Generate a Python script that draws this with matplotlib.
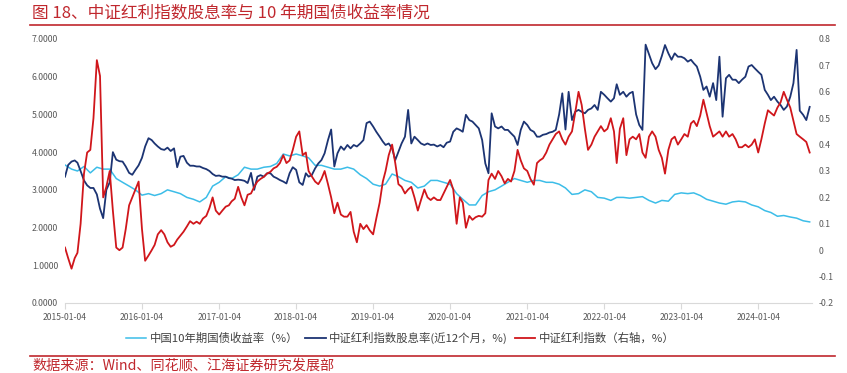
import numpy as np
import pandas as pd
import matplotlib
matplotlib.use("Agg")
import matplotlib.pyplot as plt

plt.rcParams['font.family'] = ['Noto Sans CJK SC', 'DejaVu Sans']
plt.rcParams['axes.unicode_minus'] = False

# bond yield read monthly, the two index series read twice a month (4th / 19th)
months = pd.date_range('2015-01-04', periods=117, freq=pd.DateOffset(months=1))
half_months = pd.DatetimeIndex(sorted(list(months) + list(months[:-1] + pd.Timedelta(days=15))))

# 中国10年期国债收益率 (%), left axis
bond_yield = [
    3.66, 3.55, 3.50, 3.62, 3.45, 3.60, 3.55, 3.55, 3.30, 3.20, 3.10, 3.00,
    2.86, 2.90, 2.85, 2.90, 3.00, 2.95, 2.90, 2.80, 2.75, 2.68, 2.80, 3.10,
    3.20, 3.35, 3.30, 3.40, 3.60, 3.55, 3.55, 3.60, 3.62, 3.70, 3.95, 3.90,
    3.95, 3.90, 3.85, 3.65, 3.65, 3.60, 3.55, 3.55, 3.60, 3.55, 3.40, 3.30,
    3.15, 3.10, 3.15, 3.42, 3.35, 3.25, 3.20, 3.05, 3.10, 3.25, 3.25, 3.20,
    3.15, 2.90, 2.75, 2.60, 2.60, 2.85, 2.95, 3.00, 3.10, 3.20, 3.30, 3.25,
    3.20, 3.25, 3.25, 3.20, 3.20, 3.15, 3.05, 2.88, 2.90, 3.00, 2.95, 2.80,
    2.78, 2.72, 2.80, 2.80, 2.78, 2.80, 2.82, 2.72, 2.65, 2.72, 2.70, 2.88,
    2.92, 2.90, 2.92, 2.85, 2.75, 2.70, 2.65, 2.62, 2.68, 2.70, 2.68, 2.60,
    2.55, 2.45, 2.40, 2.30, 2.32, 2.28, 2.25, 2.18, 2.15,
]

# 中证红利指数股息率 (近12个月, %), left axis
div_yield = [
    3.35, 3.66, 3.75, 3.78, 3.72, 3.50, 3.25, 3.12, 3.05, 3.05,
    2.88, 2.50, 2.25, 3.00, 3.20, 4.00, 3.80, 3.76, 3.75, 3.62,
    3.45, 3.40, 3.53, 3.65, 3.85, 4.15, 4.37, 4.32, 4.23, 4.15,
    4.08, 4.06, 4.12, 4.03, 4.10, 3.60, 3.88, 3.90, 3.72, 3.64,
    3.64, 3.62, 3.62, 3.58, 3.55, 3.50, 3.42, 3.37, 3.38, 3.35,
    3.35, 3.31, 3.30, 3.26, 3.27, 3.26, 3.24, 3.18,
    3.45, 3.00, 3.35, 3.39, 3.35, 3.44, 3.44, 3.35, 3.31, 3.26,
    3.22, 3.17, 3.44, 3.60, 3.53, 3.20, 3.13, 3.44, 3.35, 3.39,
    3.57, 3.70, 3.79, 3.97, 4.32, 4.60, 3.62, 3.97, 4.15, 4.06,
    4.19, 4.10, 4.19, 4.15, 4.23, 4.32, 4.77, 4.81, 4.68, 4.54,
    4.41, 4.28, 4.19, 4.23, 4.10, 3.79, 4.01, 4.23, 4.41, 5.12,
    4.23, 4.41, 4.32, 4.23, 4.19, 4.23, 4.19, 4.20,
    4.15, 4.19, 4.13, 4.25, 4.28, 4.54, 4.63, 4.59, 4.54, 4.99,
    4.85, 4.81, 4.72, 4.63, 4.32, 3.70, 3.44, 5.03, 4.68, 4.63,
    4.68, 4.59, 4.59, 4.50, 4.41, 4.19, 4.59, 4.81, 4.72, 4.59,
    4.54, 4.41, 4.41, 4.46, 4.48, 4.52, 4.54, 4.59, 5.00, 5.56,
    4.60, 5.60, 4.85, 5.07, 5.12, 5.07, 5.03, 5.12, 5.16, 5.25,
    5.12, 5.60, 5.52, 5.43, 5.34, 5.43, 5.80,
    5.52, 5.60, 5.47, 5.56, 5.60, 5.00, 4.72, 4.59, 6.85, 6.60,
    6.36, 6.20, 6.30, 6.55, 6.84, 6.62, 6.45, 6.62, 6.53, 6.53,
    6.49, 6.40, 6.45, 6.36, 6.27, 6.00, 5.65, 5.74, 5.47, 5.83,
    5.38, 6.53, 4.94, 5.96, 6.05, 5.92, 5.92, 5.83, 5.92, 6.00,
    6.27, 6.31, 6.22, 6.13, 6.05, 5.65, 5.52, 5.38, 5.47, 5.34,
    5.25, 5.12, 5.21, 5.47, 5.83, 6.71, 5.10, 4.99, 4.85, 5.20,
]

# 中证红利指数 (右轴, %)
index_val = [
    0.01, -0.03, -0.07, -0.03, -0.01, 0.10, 0.29, 0.37, 0.38, 0.50,
    0.72, 0.66, 0.20, 0.24, 0.30, 0.15, 0.01, 0.00, 0.01, 0.08,
    0.17, 0.20, 0.23, 0.26, 0.08, -0.04, -0.02, 0.00, 0.02, 0.06,
    0.076, 0.06, 0.03, 0.013, 0.02, 0.04, 0.055, 0.07, 0.09, 0.11,
    0.10, 0.108, 0.10, 0.12, 0.13, 0.16, 0.20, 0.15, 0.135, 0.15,
    0.165, 0.17, 0.185, 0.195, 0.24, 0.20, 0.17, 0.21,
    0.215, 0.24, 0.26, 0.27, 0.278, 0.29, 0.297, 0.31, 0.316, 0.33,
    0.36, 0.33, 0.34, 0.38, 0.43, 0.45, 0.36, 0.37, 0.30, 0.28,
    0.26, 0.25, 0.27, 0.30, 0.25, 0.20, 0.14, 0.18, 0.135, 0.127,
    0.127, 0.145, 0.07, 0.03, 0.10, 0.08, 0.095, 0.075, 0.06, 0.12,
    0.18, 0.26, 0.30, 0.36, 0.40, 0.33, 0.25, 0.24, 0.215, 0.23,
    0.24, 0.20, 0.15, 0.19, 0.23, 0.20, 0.19, 0.20,
    0.19, 0.19, 0.215, 0.24, 0.266, 0.23, 0.10, 0.20, 0.18, 0.085,
    0.13, 0.115, 0.125, 0.13, 0.127, 0.14, 0.266, 0.29, 0.27, 0.30,
    0.28, 0.253, 0.27, 0.26, 0.30, 0.38, 0.34, 0.31, 0.30, 0.27,
    0.248, 0.33, 0.34, 0.348, 0.37, 0.40, 0.42, 0.44, 0.45, 0.42,
    0.40, 0.43, 0.45, 0.52, 0.60, 0.55, 0.46, 0.38, 0.40, 0.43,
    0.45, 0.47, 0.45, 0.46, 0.50, 0.45, 0.33,
    0.46, 0.50, 0.36, 0.42, 0.43, 0.42, 0.44, 0.37, 0.35, 0.43,
    0.45, 0.43, 0.38, 0.35, 0.29, 0.38, 0.42, 0.43, 0.40, 0.42,
    0.44, 0.43, 0.48, 0.49, 0.47, 0.51, 0.57, 0.52, 0.47, 0.43,
    0.44, 0.45, 0.43, 0.45, 0.43, 0.44, 0.42, 0.39, 0.39, 0.40,
    0.39, 0.40, 0.42, 0.37, 0.42, 0.48, 0.53, 0.52, 0.51, 0.54,
    0.56, 0.60, 0.57, 0.54, 0.49, 0.44, 0.43, 0.42, 0.41, 0.37,
]

labels = ['中国10年期国债收益率（%）', '中证红利指数股息率(近12个月，%)', '中证红利指数（右轴，%）']
title = '图 18、中证红利指数股息率与 10 年期国债收益率情况'
source = '数据来源：Wind、同花顺、江海证券研究发展部'

c_light = '#3CBDE8'
c_navy = '#1C3473'
c_red = '#D0161B'
c_title = '#C0272D'
c_tick = '#595959'

fig = plt.figure(figsize=(8.47, 3.73), dpi=100)
ax = fig.add_axes([65 / 847, 1 - 303 / 373, (812 - 65) / 847, (303 - 39) / 373])
ax2 = ax.twinx()

l1, = ax.plot(months, bond_yield, color=c_light, lw=1.1)
l2, = ax.plot(half_months, div_yield, color=c_navy, lw=1.3)
l3, = ax2.plot(half_months, index_val, color=c_red, lw=1.3)

ax.set_ylim(0, 7)
ax.set_yticks(np.arange(0, 8, 1))
ax.set_yticklabels(['%.4f' % v for v in range(8)])
ax2.set_ylim(-0.2, 0.8)
rticks = np.round(np.arange(-0.2, 0.81, 0.1), 1)
ax2.set_yticks(rticks)
ax2.set_yticklabels(['0' if v == 0 else ('%g' % v) for v in rticks])

ax.set_xlim(pd.Timestamp('2015-01-04'), pd.Timestamp('2024-09-15'))
xt = pd.date_range('2015-01-04', periods=10, freq=pd.DateOffset(years=1))
ax.set_xticks(xt)
ax.set_xticklabels([d.strftime('%Y-%m-%d') for d in xt])

for a in (ax, ax2):
    for s in a.spines.values():
        s.set_visible(False)
ax.spines['bottom'].set_visible(True)
ax.spines['bottom'].set_color('#D9D9D9')
ax.tick_params(axis='x', colors='#D9D9D9', labelcolor=c_tick, labelsize=6.2, length=4, pad=3)
ax.tick_params(axis='y', length=0, labelcolor=c_tick, labelsize=6.3, pad=5)
ax2.tick_params(axis='y', length=0, labelcolor=c_tick, labelsize=6.3, pad=5)

fig.legend([l1, l2, l3], labels, ncol=3, loc='center', bbox_to_anchor=(400 / 847, 1 - 338 / 373),
           frameon=False, fontsize=8.2, handlelength=1.8, columnspacing=0.6, handletextpad=0.3,
           labelcolor='#404040')

fig.text(32 / 847, 1 - 13 / 373, title, color=c_title, fontsize=12, va='center', ha='left')
fig.add_artist(plt.Line2D([30 / 847, 835 / 847], [1 - 25 / 373] * 2, color=c_title, lw=1.2))
fig.add_artist(plt.Line2D([30 / 847, 835 / 847], [1 - 356 / 373] * 2, color=c_title, lw=1.2))
fig.text(32 / 847, 1 - 366 / 373, source, color=c_title, fontsize=10.2, va='center', ha='left')

fig.savefig('out.png', dpi=100)
